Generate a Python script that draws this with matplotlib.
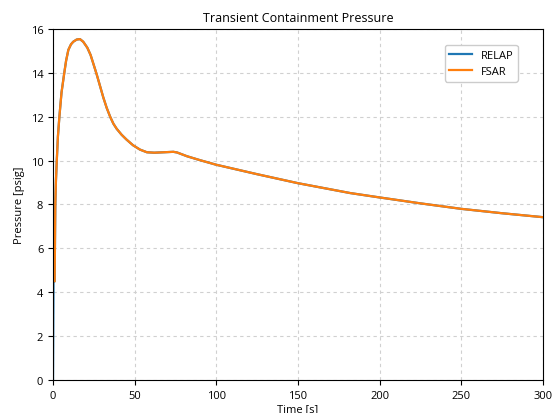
import numpy as np
import matplotlib
matplotlib.use('Agg')
import matplotlib.pyplot as plt

plt.rcParams['font.family'] = ['Open Sans', 'DejaVu Sans']

# values
relap_t = [0, 0.3, 1.0, 1.4, 1.8, 2.3, 3.0, 3.9, 5.2, 6.9, 8.0, 9.4, 11.0, 12.4, 14.5, 16.5, 18.5, 21.0, 23.0, 24.7, 26.8, 28.8,
           30.8, 32.9, 35.0, 37.0, 39.0, 42.0, 45.0, 49.0, 53.3, 57.5, 62, 68, 73.7, 76, 82, 90, 100, 125, 150, 182, 200,
           225, 250, 275, 300]
relap_p = [0, 4.5, 4.5, 8.0, 9.1, 10.0, 11.1, 12.0, 13.1, 14.0, 14.55, 15.05, 15.3, 15.42, 15.52, 15.54, 15.42, 15.15, 14.82,
           14.42, 13.92, 13.4, 12.88, 12.4, 12.0, 11.68, 11.45, 11.18, 10.96, 10.7, 10.5, 10.38, 10.36, 10.38, 10.40,
           10.37, 10.2, 10.02, 9.81, 9.38, 8.97, 8.52, 8.32, 8.05, 7.80, 7.6, 7.42]

fsar_t = relap_t[2:]
fsar_p = relap_p[2:]

fig = plt.figure(figsize=(5.54, 4.14), dpi=100)
ax = fig.add_axes([0.0957, 0.080, 0.884, 0.8475])

ax.plot(relap_t, relap_p, color='#1f77b4', lw=1.6, label='RELAP')
ax.plot(fsar_t, fsar_p, color='#ff7f0e', lw=1.6, label='FSAR')

ax.set_xlim(0, 300)
ax.set_ylim(0, 16)
ax.set_xticks(np.arange(0, 301, 50))
ax.set_yticks(np.arange(0, 17, 2))
ax.tick_params(labelsize=8)
ax.grid(True, linestyle=(0, (3, 3)), color='#d0d0d0', lw=0.8)
ax.set_title('Transient Containment Pressure', fontsize=9)
ax.set_xlabel('Time [s]', fontsize=8, labelpad=2)
ax.set_ylabel('Pressure [psig]', fontsize=8)
ax.legend(loc='upper right', bbox_to_anchor=(0.96, 0.97), fontsize=8, framealpha=1, fancybox=True)

fig.savefig('out.png', dpi=100)
